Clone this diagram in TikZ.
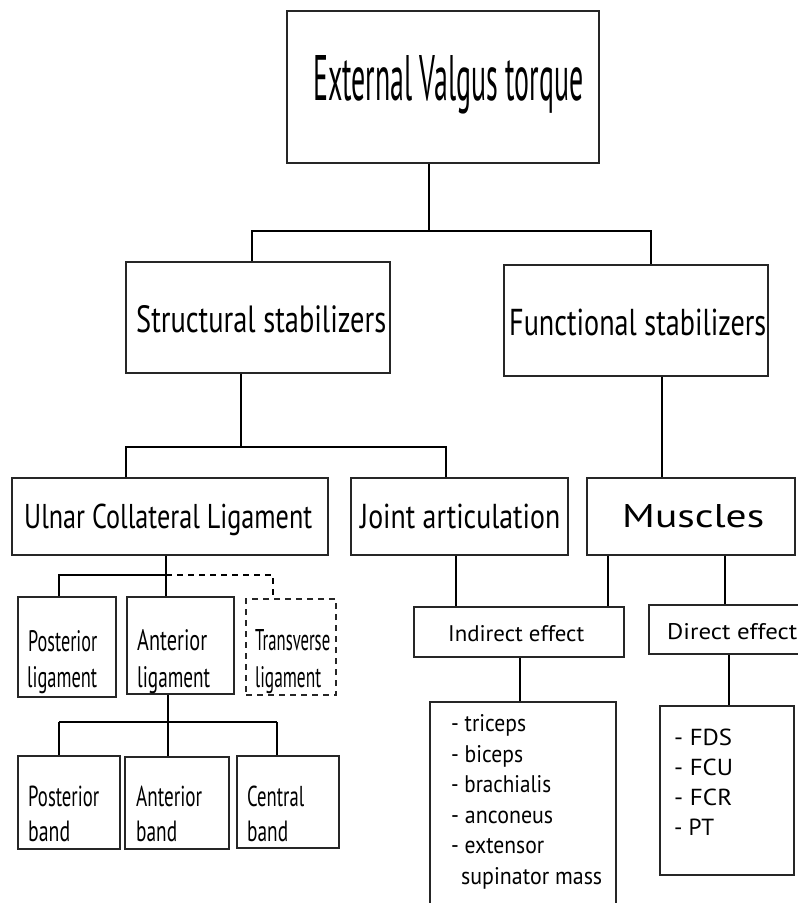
\documentclass[tikz,border=0pt]{standalone}
\usepackage{fontspec}
\setmainfont{PT Sans}
\usepackage{graphicx}
% text fitted to a measured width and a measured ascender height
\newcommand\fh[3]{\resizebox{#1pt}{#2pt}{\fontsize{20}{20}\selectfont\vphantom{l}#3}}
\tikzset{
  box/.style={draw=black!85, line width=1.2pt, inner sep=0pt, fill=none},
  lbl/.style={anchor=base west, inner sep=0pt, text=black},
  conn/.style={draw=black, line width=1.6pt},
  thinconn/.style={draw=black, line width=1.2pt},
}
% box from corner coordinates: name, x1, y1, x2, y2
\newcommand\bx[6][]{\node[box,#1,minimum width={(#5-#3)*1pt},minimum height={(#6-#4)*1pt}] (#2) at ({(#3+#5)/2},{(#4+#6)/2}) {};}
\begin{document}
\begin{tikzpicture}[x=1pt,y=-1pt]
\useasboundingbox (0,0) rectangle (798,903);
\clip (0,0) rectangle (798,903);
% ---------- boxes ----------
\bx{T}{287}{11}{599}{163}
\bx{S}{126}{262}{390}{373}
\bx{F}{504}{265}{768}{376}
\bx{U}{12}{478}{328}{555}
\bx{J}{351}{478}{568}{555}
\bx{M}{587}{478}{795}{555}
\bx{Pl}{18}{597}{116}{697}
\bx{Al}{127}{597}{234}{694}
\bx[dashed, dash pattern=on 6pt off 5pt]{Tl}{246}{599}{336}{695}
\bx{Pb}{18}{756}{120}{849}
\bx{Ab}{125}{757}{229}{849}
\bx{Cb}{237}{756}{339}{848}
\bx{Ind}{414}{607}{624}{657}
\bx{Dir}{649}{605}{812}{654}
\bx{Lst}{430}{702}{616}{930}
\bx{Fl}{660}{706}{794}{875}
% ---------- texts ----------
\node[lbl] (tT) at (313,100) {\fh{270}{45}{External Valgus torque}};
\node[lbl] (tS) at (136,332) {\fh{250}{27}{Structural stabilizers}};
\node[lbl] (tF) at (509,335) {\fh{257}{26.5}{Functional stabilizers}};
\node[lbl] (tU) at (24,528) {\fh{288}{24.5}{Ulnar Collateral Ligament}};
\node[lbl] (tJ) at (360,528) {\fh{200}{24.5}{Joint articulation}};
\node[lbl] (tM) at (622,527) {\fh{142}{23}{Muscles}};
\node[lbl] (tPl1) at (28,651) {\fh{69}{21}{Posterior}};
\node[lbl] (tPl2) at (27,687) {\fh{70}{21}{ligament}};
\node[lbl] (tAl1) at (137,650) {\fh{70}{21}{Anterior}};
\node[lbl] (tAl2) at (137,687) {\fh{73}{21}{ligament}};
\node[lbl] (tTl1) at (255,650) {\fh{75}{21}{Transverse}};
\node[lbl] (tTl2) at (255,687) {\fh{66}{21}{ligament}};
\node[lbl] (tPb1) at (28,806) {\fh{71}{20.5}{Posterior}};
\node[lbl] (tPb2) at (28,841) {\fh{42}{20.5}{band}};
\node[lbl] (tAb1) at (136,806) {\fh{66}{20.5}{Anterior}};
\node[lbl] (tAb2) at (136,841) {\fh{41}{20.5}{band}};
\node[lbl] (tCb1) at (247,806) {\fh{57}{20.5}{Central}};
\node[lbl] (tCb2) at (247,841) {\fh{41}{20.5}{band}};
\node[lbl] (tInd) at (448,641) {\fh{136}{16}{Indirect effect}};
\node[lbl] (tDir) at (667,639) {\fh{130}{16}{Direct effect}};
\node[lbl] (tL1) at (451,731) {\fh{75}{17}{- triceps}};
\node[lbl] (tL2) at (451,762) {\fh{72}{17}{- biceps}};
\node[lbl] (tL3) at (451,792) {\fh{100}{17}{- brachialis}};
\node[lbl] (tL4) at (451,823) {\fh{102}{17}{- anconeus}};
\node[lbl] (tL5) at (451,853) {\fh{93}{17}{- extensor}};
\node[lbl] (tL6) at (461,884) {\fh{141}{17}{supinator mass}};
\node[lbl] (tF1) at (674,745) {\fh{58}{16.5}{- FDS}};
\node[lbl] (tF2) at (674,775) {\fh{59}{16.5}{- FCU}};
\node[lbl] (tF3) at (674,805) {\fh{58}{16.5}{- FCR}};
\node[lbl] (tF4) at (674,835) {\fh{40}{16.5}{- PT}};
% ---------- junction coordinates ----------
\coordinate (j0) at (429,231);
\coordinate (jl) at (252,231);
\coordinate (jr) at (651,231);
\coordinate (ja) at (241,447);
\coordinate (jb) at (126,447);
\coordinate (jc) at (446,447);
\coordinate (fm) at (662,420);
\coordinate (u1) at (166,575);
\coordinate (u0) at (59,575);
\coordinate (u2) at (273,575);
\coordinate (a1) at (168,722);
\coordinate (a0) at (59,722);
\coordinate (a2) at (277,722);
\coordinate (ji) at (456,580);
\coordinate (jm) at (608,580);
\coordinate (jd) at (725,580);
\coordinate (jL) at (520,680);
\coordinate (jF) at (729,680);
% ---------- connectors ----------
\draw[conn] (T.south -| j0) -- (j0);
\draw[conn] (S.north -| jl) -- (jl) -- (jr) -- (F.north -| jr);
\draw[conn] (S.south -| ja) -- (ja);
\draw[conn] (U.north -| jb) -- (jb) -- (jc) -- (J.north -| jc);
\draw[thinconn] (F.south -| fm) -- (M.north -| fm);
\draw[thinconn] (U.south -| u1) -- (Al.north -| u1);
\draw[thinconn] (u1) -- (u0) -- (Pl.north -| u0);
\draw[thinconn, dashed, dash pattern=on 6pt off 5pt] (u1) -- (u2) -- (Tl.north -| u2);
\draw[conn] (Al.south -| a1) -- (Ab.north -| a1);
\draw[conn] (a0) -- (a2);
\draw[conn] (a0) -- (Pb.north -| a0);
\draw[conn] (a2) -- (Cb.north -| a2);
\draw[conn] (J.south -| ji) -- (Ind.north -| ji);
\draw[conn] (M.south -| jm) -- (Ind.north -| jm);
\draw[conn] (M.south -| jd) -- (Dir.north -| jd);
\draw[conn] (Ind.south -| jL) -- (Lst.north -| jL);
\draw[conn] (Dir.south -| jF) -- (Fl.north -| jF);
\end{tikzpicture}
\end{document}
